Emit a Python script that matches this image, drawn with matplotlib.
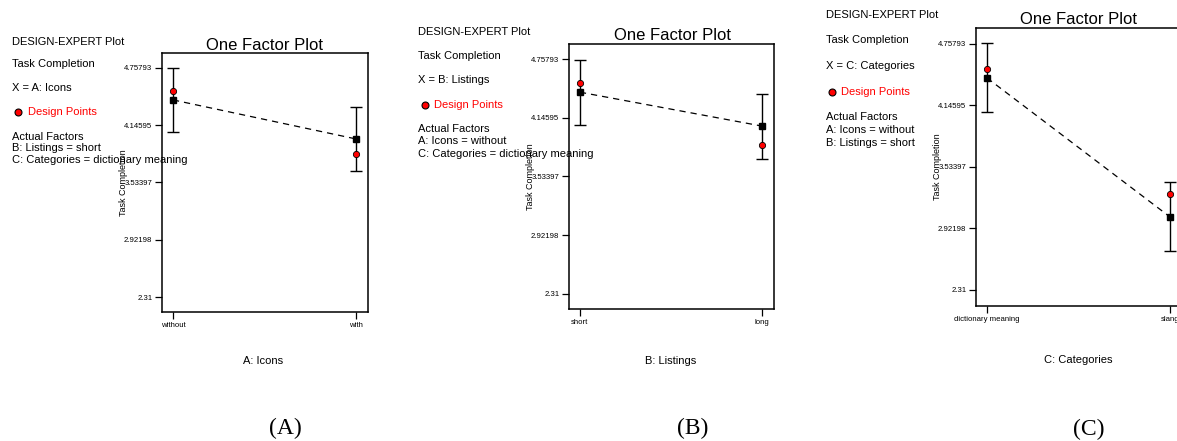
import matplotlib
matplotlib.use("Agg")
import matplotlib.pyplot as plt

plt.rcParams['font.family'] = ['Liberation Sans', 'DejaVu Sans']

W, H = 1177, 441            # figure size in pixels

# y axis ticks shared by all three panels
y_ticks = [2.31, 2.92198, 3.53397, 4.14595, 4.75793]
y_tick_labels = ["2.31", "2.92198", "3.53397", "4.14595", "4.75793"]

# Panel A: Icons
icons_levels = ["without", "with"]
icons_pred = [4.416, 3.999]
icons_actual = [4.512, 3.838]
icons_err = [0.342, 0.342]
icons_notes = ["B: Listings = short", "C: Categories = dictionary meaning"]

# Panel B: Listings
listings_levels = ["short", "long"]
listings_pred = [4.414, 4.06]
listings_actual = [4.508, 3.862]
listings_err = [0.34, 0.34]
listings_notes = ["A: Icons = without", "C: Categories = dictionary meaning"]

# Panel C: Categories
categories_levels = ["dictionary meaning", "slang"]
categories_pred = [4.42, 3.037]
categories_actual = [4.509, 3.265]
categories_err = [0.343, 0.343]
categories_notes = ["A: Icons = without", "B: Listings = short"]


def fx(x):
    return x / W


def fy(y):
    return 1 - y / H


# Draw one "One Factor Plot" panel. box = (left, top, right, bottom) in pixels,
# side = (x, [y of each side text line], marker x, text x) in pixels
def draw_panel(fig, box, levels, pred, actual, err, factor, notes, side, title_xy,
               xlabel_xy, panel_xy, panel_name):
    left, top, right, bottom = box
    ax = fig.add_axes([fx(left), fy(bottom), (right - left) / W, (bottom - top) / H])
    xs = list(range(len(levels)))

    ax.errorbar(xs, pred, yerr=err, fmt='none', ecolor='black', elinewidth=1.0,
                capsize=4, capthick=1.0, zorder=2)
    ax.plot(xs, pred, color='black', lw=0.9, linestyle=(0, (5, 4)), zorder=3)
    ax.plot(xs, actual, 'o', color='red', markeredgecolor='black', markeredgewidth=0.6,
            markersize=4.5, linestyle='none', zorder=4)
    ax.plot(xs, pred, 's', color='black', markersize=4.5, linestyle='none', zorder=5)

    ax.set_xlim(-0.06, 1.066)
    ax.set_ylim(2.15, 4.917)
    ax.set_xticks(xs)
    ax.set_xticklabels(levels)
    ax.set_yticks(y_ticks)
    ax.set_yticklabels(y_tick_labels)
    ax.tick_params(axis='both', labelsize=5.6, length=5, width=0.9, pad=2, colors='black')
    for sp in ax.spines.values():
        sp.set_linewidth(1.1)

    # label overlaps the tick labels, as in the original software output
    ax.set_ylabel("Task Completion", fontsize=6.5)
    ax.yaxis.set_label_coords(-0.165, 0.5)

    # side notes
    x, ys, mx, tx = side
    lines = ["DESIGN-EXPERT Plot", "Task Completion", "X = " + factor, None, "Actual Factors"] + notes
    for line, y in zip(lines, ys):
        if line is None:
            fig.lines.append(plt.Line2D([fx(mx)], [fy(y)], marker='o', color='red',
                                        markeredgecolor='black', markeredgewidth=0.8,
                                        markersize=5, transform=fig.transFigure))
            fig.text(fx(tx), fy(y), "Design Points", color='red', fontsize=8, va='center')
        else:
            fig.text(fx(x), fy(y), line, color='black', fontsize=8, va='center')

    fig.text(fx(title_xy[0]), fy(title_xy[1]), "One Factor Plot", fontsize=12,
             ha='center', va='center')
    fig.text(fx(xlabel_xy[0]), fy(xlabel_xy[1]), factor, fontsize=8, ha='center', va='center')
    fig.text(fx(panel_xy[0]), fy(panel_xy[1]), panel_name, fontsize=17, ha='center',
             va='center', family=['Liberation Serif', 'DejaVu Serif'])
    return ax


def main():
    fig = plt.figure(figsize=(W / 100, H / 100), dpi=100)

    draw_panel(fig, (162, 53, 368, 312), icons_levels, icons_pred, icons_actual, icons_err,
               "A: Icons", icons_notes,
               (12, [42, 64, 88, 112, 137, 148, 160], 18, 28),
               (265, 45), (263, 361), (285, 428), "(A)")
    draw_panel(fig, (569, 44, 774, 309), listings_levels, listings_pred, listings_actual,
               listings_err, "B: Listings", listings_notes,
               (418, [32, 56, 80, 105, 129, 141, 154], 425, 434),
               (672, 35), (671, 361), (693, 428), "(B)")
    draw_panel(fig, (976, 28, 1182, 306), categories_levels, categories_pred,
               categories_actual, categories_err, "C: Categories", categories_notes,
               (826, [15, 40, 66, 92, 117, 130, 143], 832, 841),
               (1078, 19), (1078, 360), (1089, 429), "(C)")

    fig.savefig("out.png", dpi=100)


if __name__ == "__main__":
    main()
